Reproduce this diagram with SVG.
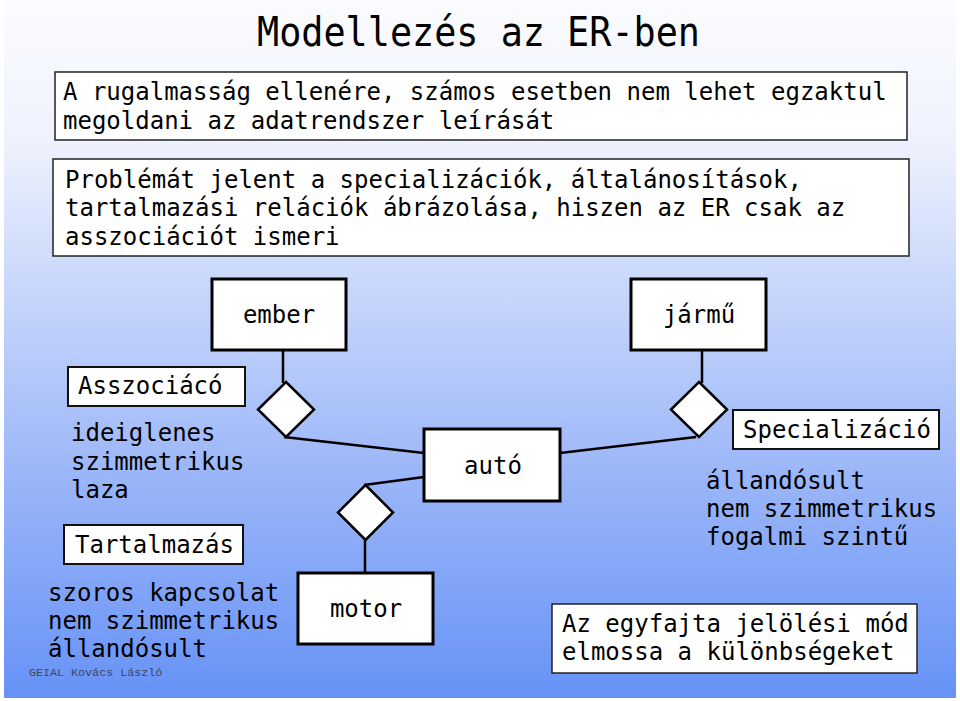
<svg xmlns="http://www.w3.org/2000/svg" width="960" height="701" viewBox="0 0 960 701">
<defs>
<linearGradient id="bg" x1="0" y1="0" x2="0" y2="1">
<stop offset="0" stop-color="#fbfcff"/>
<stop offset="0.2" stop-color="#eef2fd"/>
<stop offset="0.4" stop-color="#cad8fb"/>
<stop offset="0.7" stop-color="#98b4f8"/>
<stop offset="1" stop-color="#6692f6"/>
</linearGradient>
<style>
text{font-family:"DejaVu Sans Mono","Liberation Mono",monospace;fill:#000;}
.t{font-size:24px;}
.c{text-anchor:middle;}
.box{fill:#fff;stroke:#000;stroke-width:3;}
.note{fill:#fff;stroke:#222;stroke-width:1.5;}
.lbl{fill:#fff;stroke:#111;stroke-width:2;}
.dia{fill:#fff;stroke:#000;stroke-width:2.5;}
.con{stroke:#000;stroke-width:2.5;fill:none;}
</style>
</defs>
<rect x="0" y="0" width="960" height="701" fill="#fff"/>
<rect x="4" y="0" width="952" height="698" fill="url(#bg)"/>

<g id="title"><text x="257" y="46" font-size="40" textLength="443" lengthAdjust="spacingAndGlyphs">Modellezés az ER-ben</text></g>

<g id="note1">
<rect class="note" x="55" y="72" width="852" height="68"/>
<text class="t" x="63" y="100">A rugalmasság ellenére, számos esetben nem lehet egzaktul</text>
<text class="t" x="63" y="129">megoldani az adatrendszer leírását</text>
</g>

<g id="note2">
<rect class="note" x="53" y="159" width="856" height="97"/>
<text class="t" x="65" y="188">Problémát jelent a specializációk, általánosítások,</text>
<text class="t" x="65" y="216">tartalmazási relációk ábrázolása, hiszen az ER csak az</text>
<text class="t" x="65" y="245">asszociációt ismeri</text>
</g>

<g id="connectors">
<line class="con" x1="283" y1="350" x2="283" y2="383"/>
<line class="con" x1="284" y1="437" x2="424" y2="453"/>
<line class="con" x1="424" y1="477" x2="364" y2="485"/>
<line class="con" x1="365" y1="540" x2="365" y2="573"/>
<line class="con" x1="702" y1="350" x2="702" y2="383"/>
<line class="con" x1="560" y1="453" x2="696" y2="437"/>
</g>

<g id="ember"><rect class="box" x="212" y="279" width="134" height="71"/><text class="t c" x="279" y="323">ember</text></g>
<g id="jarmu"><rect class="box" x="631" y="279" width="135" height="71"/><text class="t c" x="699" y="323">jármű</text></g>
<g id="auto"><rect class="box" x="424" y="429" width="136" height="72"/><text class="t c" x="493" y="474">autó</text></g>
<g id="motor"><rect class="box" x="298" y="573" width="135" height="71"/><text class="t c" x="366" y="617">motor</text></g>

<g id="rel1"><polygon class="dia" points="286,382 314,409.5 286,437 258,409.5"/></g>
<g id="rel2"><polygon class="dia" points="365.5,485 393,512.5 365.5,540 338,512.5"/></g>
<g id="rel3"><polygon class="dia" points="699,382 727,409.5 699,437 671,409.5"/></g>

<g id="asszociacio">
<rect class="lbl" x="68" y="367" width="177" height="39"/>
<text class="t" x="78" y="394">Asszociácó</text>
<text class="t" x="71" y="441">ideiglenes</text>
<text class="t" x="71" y="470">szimmetrikus</text>
<text class="t" x="71" y="498">laza</text>
</g>

<g id="tartalmazas">
<rect class="lbl" x="64" y="525" width="179" height="39"/>
<text class="t" x="75" y="553">Tartalmazás</text>
<text class="t" x="48" y="601">szoros kapcsolat</text>
<text class="t" x="48" y="629">nem szimmetrikus</text>
<text class="t" x="48" y="657">állandósult</text>
</g>

<g id="specializacio">
<rect class="lbl" x="733" y="410" width="206" height="39"/>
<text class="t" x="743" y="438">Specializáció</text>
<text class="t" x="706" y="489">állandósult</text>
<text class="t" x="706" y="517">nem szimmetrikus</text>
<text class="t" x="706" y="545">fogalmi szintű</text>
</g>

<g id="note3">
<rect class="note" x="552" y="604" width="365" height="69"/>
<text class="t" x="562" y="632">Az egyfajta jelölési mód</text>
<text class="t" x="562" y="660">elmossa a különbségeket</text>
</g>

<g id="footer"><text x="29" y="676" font-size="11.7" style="font-family:'Liberation Mono',monospace;fill:#3a4668;">GEIAL Kovács László</text></g>
</svg>
